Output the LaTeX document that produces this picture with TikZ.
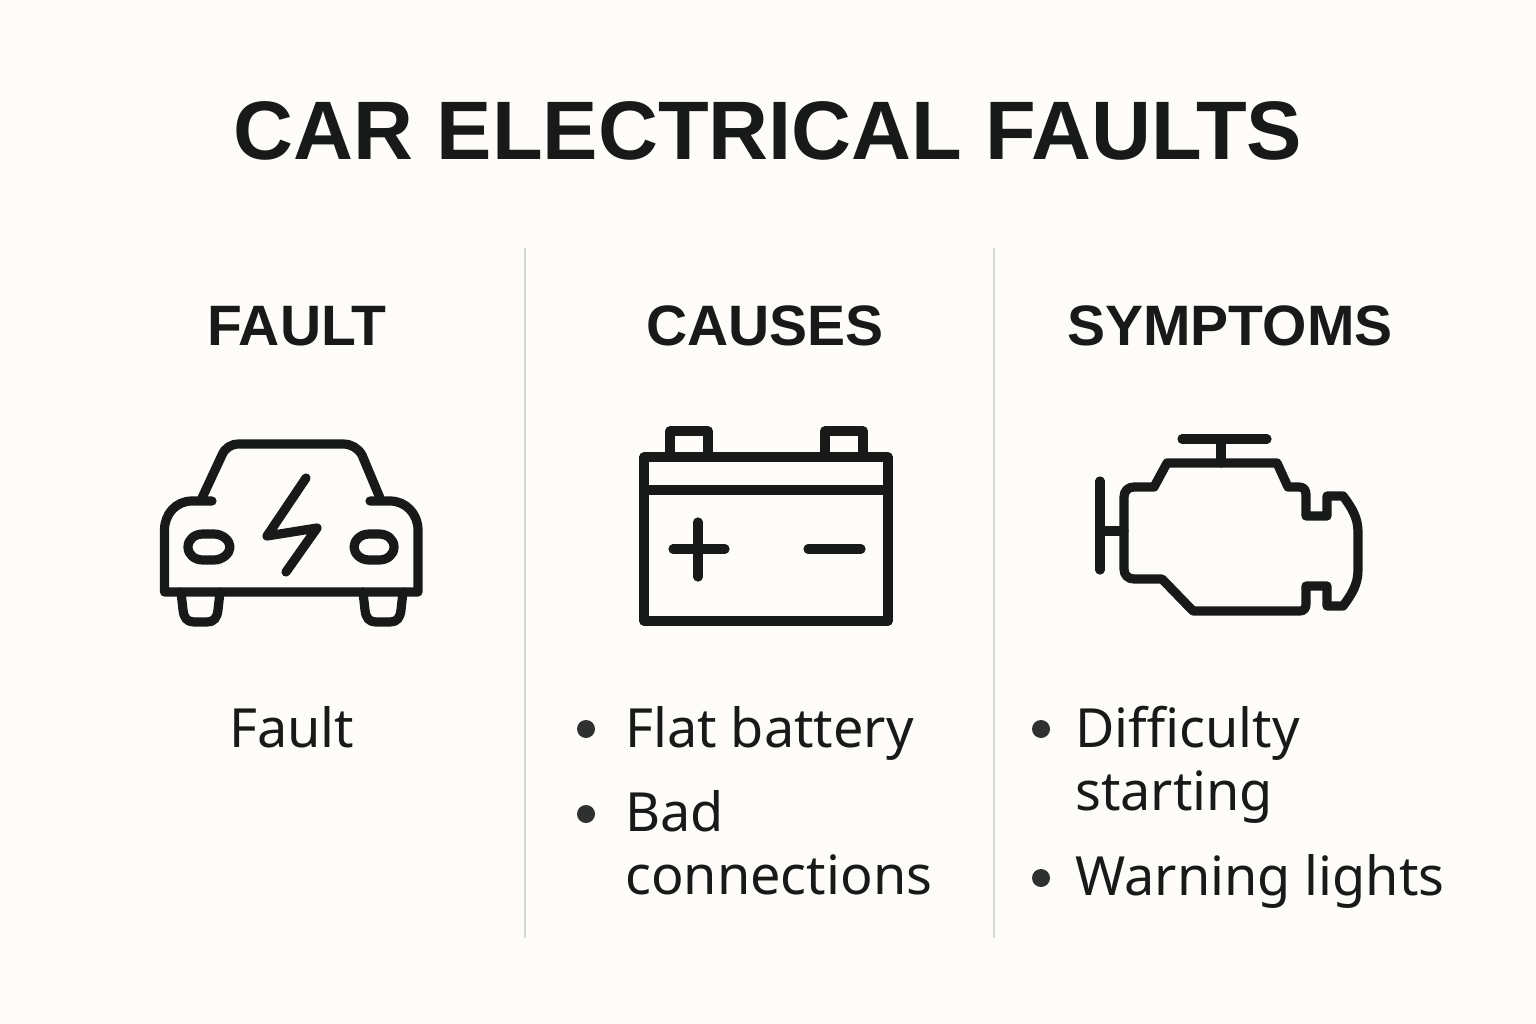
\documentclass[tikz,border=0pt]{standalone}
\usepackage{fontspec}
\setmainfont{Noto Sans}
\newfontfamily\headfont{Liberation Sans}
\definecolor{paper}{HTML}{FDFCF8}
\definecolor{ink}{HTML}{181A1A}
\definecolor{rulegray}{HTML}{D6D6D2}
\tikzset{
  icon/.style = {draw=ink, line width=9.2pt, line cap=round, line join=round},
  titletext/.style = {text=ink, font=\headfont\fontsize{83}{90}\selectfont\bfseries, anchor=base},
  headtext/.style = {text=ink, font=\headfont\fontsize{57}{63}\selectfont\bfseries, anchor=base},
  itemtext/.style = {text=ink, font=\fontsize{54}{63}\selectfont, anchor=north west, align=left, inner sep=0pt},
  dot/.style = {circle, fill=ink!90, inner sep=0pt, minimum size=18pt},
  divider/.style = {draw=rulegray, line width=2pt}
}
\begin{document}
\begin{tikzpicture}[x=1pt,y=-1pt]
\fill[paper] (0,0) rectangle (1536,1024);
\useasboundingbox (0,0) rectangle (1536,1024);

\node[titletext] (title) at (768,160) {CAR ELECTRICAL FAULTS};

\coordinate (divAtop) at (525,248);
\coordinate (divAbot) at (525,938);
\coordinate (divBtop) at (994,248);
\coordinate (divBbot) at (994,938);
\draw[divider] (divAtop) -- (divAbot);
\draw[divider] (divBtop) -- (divBbot);

\node[headtext] (headfault) at (297,345) {FAULT};
\node[headtext] (headcauses) at (765,345) {CAUSES};
\node[headtext] (headsymptoms) at (1230,345) {SYMPTOMS};

% car
\begin{scope}
\draw[icon] (212,501) -- (192,501) .. controls (176,501) and (164.5,514) .. (164.5,530)
  -- (164.5,592) -- (418,592) -- (418,530)
  .. controls (418,514) and (406,501) .. (390,501) -- (370,501);
\draw[icon] (202,498) -- (222,455) .. controls (225,448) and (231,444) .. (239,444)
  -- (343,444) .. controls (351,444) and (358,448) .. (362,455) -- (380,498);
\draw[icon] (188,547) .. controls (188,539) and (195,534) .. (203,534) -- (214,534)
  .. controls (223,534) and (230,541) .. (230,547) .. controls (230,553) and (223,560) .. (214,560)
  -- (203,560) .. controls (195,560) and (188,555) .. (188,547) -- cycle;
\draw[icon] (394,547) .. controls (394,539) and (387,534) .. (379,534) -- (369,534)
  .. controls (360,534) and (354,541) .. (354,547) .. controls (354,553) and (360,560) .. (369,560)
  -- (379,560) .. controls (387,560) and (394,555) .. (394,547) -- cycle;
\draw[icon] (306,478) -- (267,536) -- (317,528) -- (286,572);
\draw[icon] (181,592) -- (183,610) .. controls (184,618) and (187,622) .. (194,622)
  -- (207,622) .. controls (214,622) and (217,618) .. (218,610) -- (220,592);
\draw[icon] (363,592) -- (365,610) .. controls (366,618) and (369,622) .. (376,622)
  -- (390,622) .. controls (397,622) and (400,618) .. (401,610) -- (403,592);
\end{scope}

% battery
\begin{scope}
\draw[icon] (644,457) rectangle (888,621);
\draw[icon] (644,490) -- (888,490);
\draw[icon] (670,457) -- (670,431) -- (708,431) -- (708,457);
\draw[icon] (825,457) -- (825,431) -- (863,431) -- (863,457);
\draw[icon] (673,549) -- (725,549);
\draw[icon] (698,522) -- (698,577);
\draw[icon] (808,549) -- (861,549);
\end{scope}

% engine
\begin{scope}
\draw[icon] (1182,439) -- (1267,439);
\draw[icon] (1221,439) -- (1221,463);
\draw[icon] (1100,481) -- (1100,570);
\draw[icon] (1100,531) -- (1124,531);
\draw[icon] (1124,497) .. controls (1124,491) and (1128,487) .. (1134,487)
  -- (1154,487) -- (1167,463) -- (1277,463) -- (1288,487) -- (1299,487)
  .. controls (1304,487) and (1306,490) .. (1306,495)
  -- (1306,516) -- (1327,516) -- (1327,496) -- (1343,496)
  .. controls (1352,508) and (1358,518) .. (1358,532) -- (1358,570)
  .. controls (1358,584) and (1352,594) .. (1343,606)
  -- (1327,606) -- (1327,586) -- (1306,586) -- (1306,604)
  .. controls (1306,608) and (1304,611) .. (1300,611)
  -- (1193,611) -- (1162,579) -- (1134,579)
  .. controls (1128,579) and (1124,575) .. (1124,569) -- cycle;
\end{scope}

\node[itemtext] (itemfault) at (229,706) {Fault};

\node[dot] (dotflat) at (586,729) {};
\node[itemtext] (itemflat) at (625,706) {Flat battery};
\node[dot] (dotbad) at (586,814) {};
\node[itemtext] (itembad) at (625,790) {Bad\\connections};

\node[dot] (dotdiff) at (1041,729) {};
\node[itemtext] (itemdiff) at (1075,706) {Difficulty\\starting};
\node[dot] (dotwarn) at (1041,878) {};
\node[itemtext] (itemwarn) at (1075,854) {Warning lights};
\end{tikzpicture}
\end{document}
